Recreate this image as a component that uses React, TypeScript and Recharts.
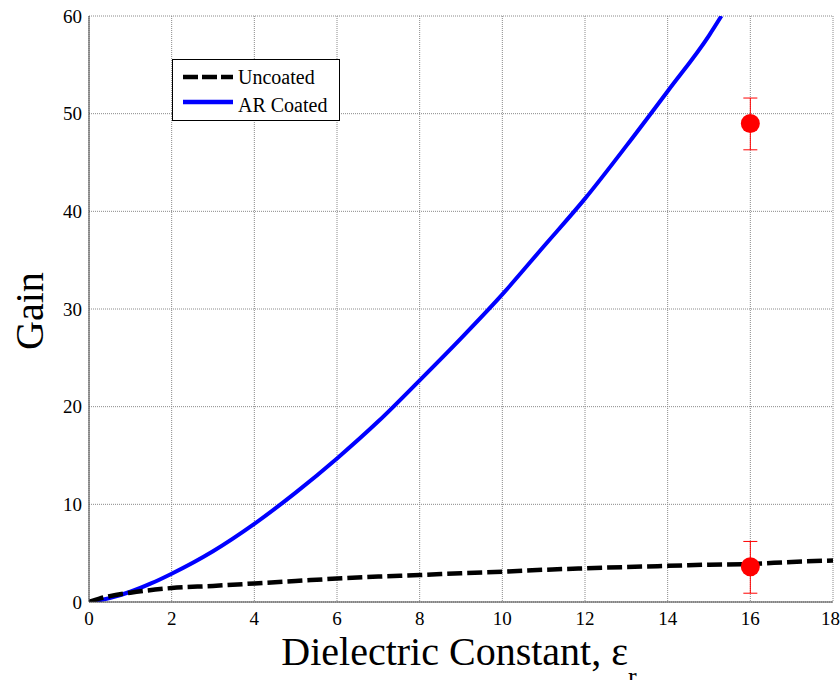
import React from 'react';
import { ComposedChart, Line, Scatter, XAxis, YAxis, CartesianGrid, ErrorBar, Legend } from 'recharts';

const xTicks = [0, 2, 4, 6, 8, 10, 12, 14, 16, 18];
const yTicks = [0, 10, 20, 30, 40, 50, 60];

const uncoatedX = [0, 0.25, 0.5, 1, 2, 3, 4, 5, 6, 7, 8, 9, 10, 11, 12, 13, 14, 15, 16, 17, 18];
const uncoatedY = [0, 0.35, 0.6, 0.95, 1.43, 1.65, 1.9, 2.15, 2.4, 2.6, 2.76, 2.95, 3.1, 3.3, 3.45, 3.58, 3.7, 3.82, 3.9, 4.1, 4.25];

const coatedX = [0, 0.5, 1, 1.5, 2, 3, 4, 5, 6, 7, 8, 9, 10, 11, 12, 13, 14, 15, 15.3];
const coatedY = [0, 0.4, 1.05, 1.9, 2.9, 5.2, 8, 11.2, 14.7, 18.5, 22.7, 27, 31.5, 36.4, 41.3, 46.7, 52.3, 58, 60];

const measX = [16, 16];
const measY = [49, 3.6];
const measErrLow = [2.7, 2.7];
const measErrHigh = [2.6, 2.6];

const uncoated = uncoatedX.map((x, i) => ({ x, y: uncoatedY[i] }));
const coated = coatedX.map((x, i) => ({ x, y: coatedY[i] }));
const measured = measX.map((x, i) => ({ x, y: measY[i], err: [measErrLow[i], measErrHigh[i]] }));

const FONT = '"Liberation Serif", "Times New Roman", serif';

const XLabel = (props: any) => {
  const vb = props.viewBox || { x: 89, y: 602, width: 744, height: 78 };
  const cx = vb.x + vb.width / 2 - 2;
  return (
    <text x={cx} y={665} textAnchor="middle" fontFamily={FONT} fontSize={40} fill="#000">
      <tspan>Dielectric Constant, ε</tspan>
      <tspan fontSize={26} dy={20}>r</tspan>
    </text>
  );
};

const YLabel = () => (
  <text x={43} y={311} transform="rotate(-90, 43, 311)" textAnchor="middle" fontFamily={FONT} fontSize={40} fill="#000">
    Gain
  </text>
);

const LegendBox = () => (
  <svg width={168} height={62} style={{ display: 'block' }}>
    <rect x={0.5} y={0.5} width={167} height={61} fill="#fff" stroke="#000" strokeWidth={1} />
    <line x1={11} y1={18} x2={61} y2={18} stroke="#000" strokeWidth={4.5} strokeDasharray="15 4" />
    <text x={66} y={24.5} fontFamily={FONT} fontSize={20} fill="#000">Uncoated</text>
    <line x1={11} y1={43} x2={61} y2={43} stroke="#0000ff" strokeWidth={4.5} />
    <text x={66} y={52.5} fontFamily={FONT} fontSize={20} fill="#000">AR Coated</text>
  </svg>
);

const RedDot = (props: any) => {
  const { cx, cy } = props;
  if (cx == null || cy == null) return null;
  return <circle cx={cx} cy={cy} r={9.5} fill="#ff0000" />;
};

export default function App() {
  return (
    <div style={{ position: 'absolute', left: 0, top: 0, width: 840, height: 680, background: '#fff' }}>
      <ComposedChart width={840} height={680} margin={{ top: 16, right: 7, left: 0, bottom: 0 }}>
        <CartesianGrid stroke="#8a8a8a" strokeDasharray="1 1" strokeWidth={1} />
        <XAxis
          type="number"
          dataKey="x"
          domain={[0, 18]}
          ticks={xTicks}
          allowDataOverflow
          height={78}
          tickLine={false}
          tickMargin={4}
          axisLine={{ stroke: '#444', strokeWidth: 1 }}
          tick={{ fontFamily: FONT, fontSize: 19, fill: '#000' }}
          label={<XLabel />}
        />
        <YAxis
          type="number"
          dataKey="y"
          domain={[0, 60]}
          ticks={yTicks}
          allowDataOverflow
          width={89}
          tickLine={false}
          tickMargin={1}
          axisLine={{ stroke: '#444', strokeWidth: 1 }}
          tick={{ fontFamily: FONT, fontSize: 19, fill: '#000' }}
          label={<YLabel />}
        />
        <Legend
          layout="vertical"
          align="center"
          verticalAlign="middle"
          content={<LegendBox />}
          wrapperStyle={{ position: 'absolute', left: 172, top: 59, width: 168, height: 62 }}
        />
        <Line
          data={coated}
          dataKey="y"
          type="monotone"
          stroke="#0000ff"
          strokeWidth={4}
          dot={false}
          activeDot={false}
          isAnimationActive={false}
          name="AR Coated"
        />
        <Line
          data={uncoated}
          dataKey="y"
          type="monotone"
          stroke="#000"
          strokeWidth={4.5}
          strokeDasharray="15 5"
          dot={false}
          activeDot={false}
          isAnimationActive={false}
          name="Uncoated"
        />
        <Scatter data={measured} dataKey="y" shape={<RedDot />} isAnimationActive={false} name="Measured">
          <ErrorBar dataKey="err" direction="y" width={7} stroke="#ff0000" strokeWidth={1} />
        </Scatter>
      </ComposedChart>
    </div>
  );
}
